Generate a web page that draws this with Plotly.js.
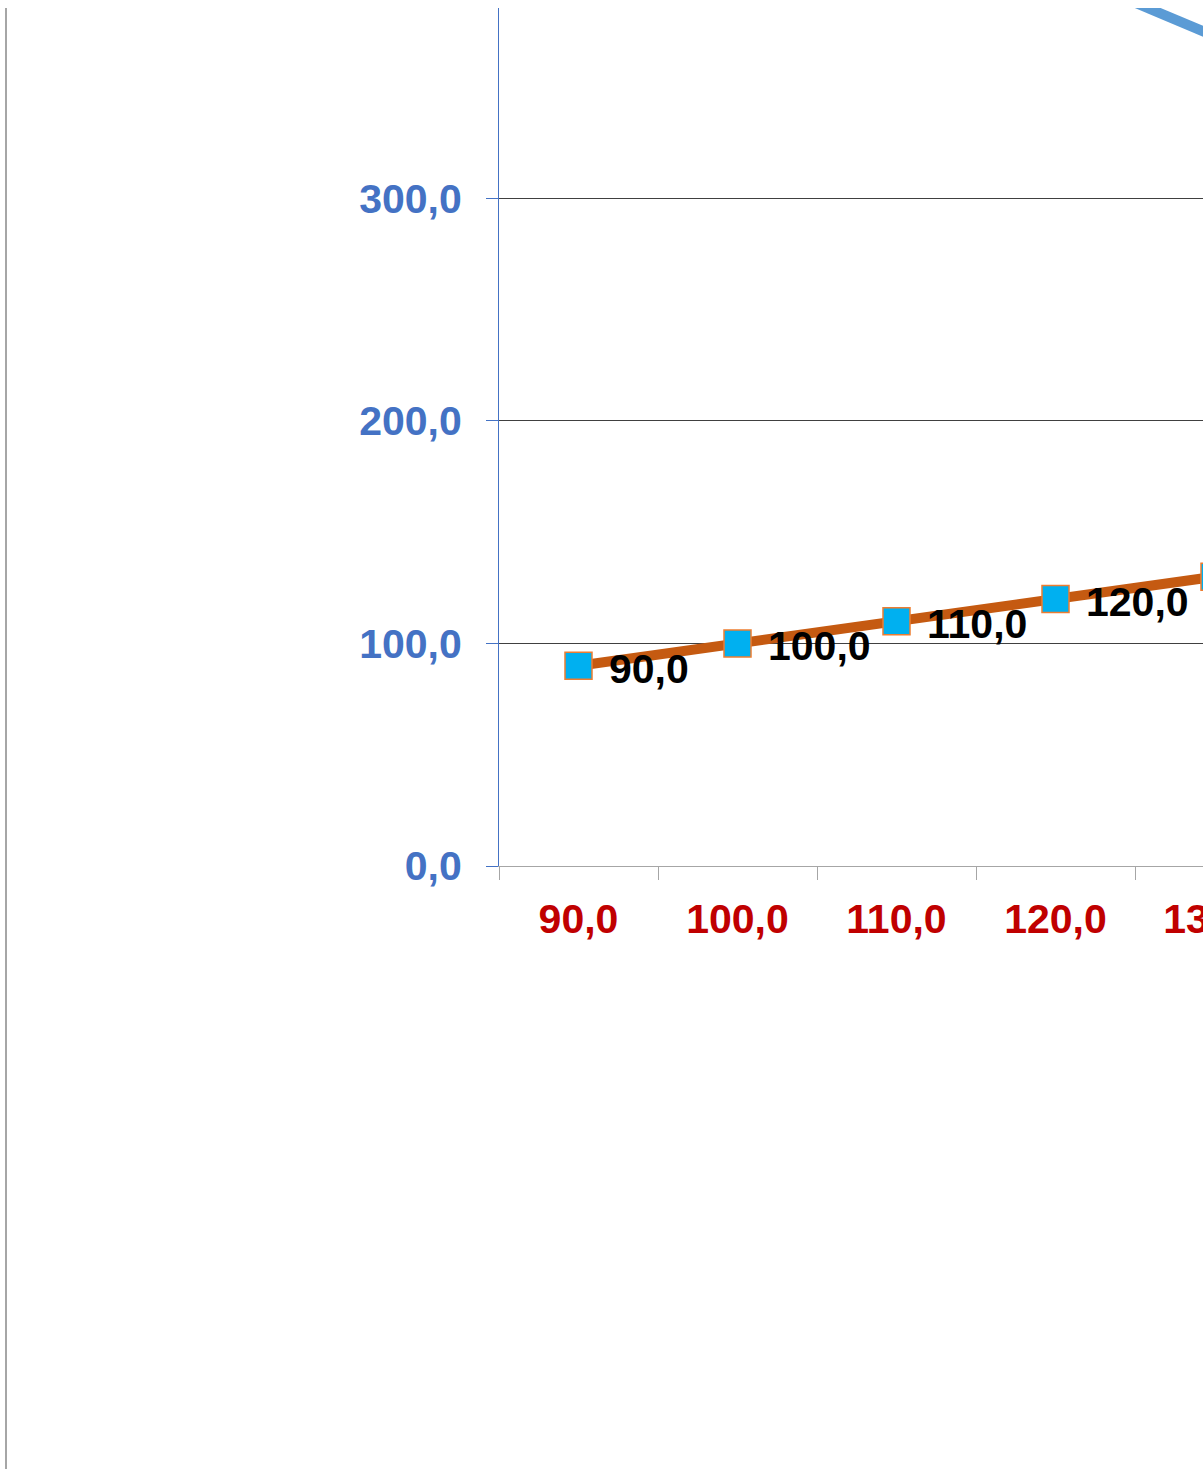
<!DOCTYPE html>
<html>
<head>
<meta charset="utf-8">
<script src="https://cdn.plot.ly/plotly-3.0.1.min.js"></script>
<style>
  html, body { margin: 0; padding: 0; overflow: hidden; background: #fff; }
  #myDiv { width: 1354px; height: 1469px; }
</style>
</head>
<body>
<div id="myDiv"></div>
<script>
// categories on the x axis (last one is cut off by the crop)
var categories = ["90,0", "100,0", "110,0", "120,0", "130,0"];
// orange series with blue square markers
var mainValues = [90, 100, 110, 120, 130];
// blue series, only its segment near the top right is visible
var blueValues = [null, null, null, 403, 373];

var yTickVals = [0, 100, 200, 300];
var yTickText = ["0,0", "100,0", "200,0", "300,0"];

function fmt(v) {
    return v.toFixed(1).replace(".", ",");
}

var boldFont = "'Liberation Sans', Arial, sans-serif";

var traceMain = {
    x: categories,
    y: mainValues,
    type: 'scatter',
    mode: 'lines+markers',
    line: { color: '#C55A11', width: 10 },
    marker: { symbol: 'square', size: 27, color: '#00B0F0', line: { color: '#ED7D31', width: 1.5 } },
    cliponaxis: false,
    hoverinfo: 'skip'
};

var traceBlue = {
    x: categories,
    y: blueValues,
    type: 'scatter',
    mode: 'lines',
    line: { color: '#5B9BD5', width: 10 },
    cliponaxis: true,
    hoverinfo: 'skip'
};

// data labels to the right of each marker
var labels = [];
for (var i = 0; i < mainValues.length; i++) {
    labels.push({
        x: categories[i],
        y: mainValues[i],
        xref: 'x', yref: 'y',
        text: fmt(mainValues[i]),
        showarrow: false,
        xanchor: 'left',
        yanchor: 'middle',
        xshift: 28,
        yshift: -3,
        font: { family: boldFont, size: 41, color: '#000000', weight: 'bold' }
    });
}

var layout = {
    width: 1354,
    height: 1469,
    margin: { l: 499, r: 60, t: 8, b: 603 },
    paper_bgcolor: '#ffffff',
    plot_bgcolor: '#ffffff',
    showlegend: false,
    xaxis: {
        type: 'category',
        range: [-0.5, categories.length - 0.5],
        tickson: 'boundaries',
        ticks: 'outside',
        ticklen: 13,
        tickcolor: '#A6A6A6',
        tickwidth: 1,
        showline: true,
        linecolor: '#A6A6A6',
        linewidth: 1,
        showgrid: false,
        zeroline: false,
        ticklabelstandoff: 17,
        tickfont: { family: boldFont, size: 41, color: '#C00000', weight: 'bold' }
    },
    yaxis: {
        range: [0, 385.6],
        tickvals: yTickVals,
        ticktext: yTickText,
        ticks: 'outside',
        ticklen: 12,
        tickcolor: '#4472C4',
        tickwidth: 1,
        showline: true,
        linecolor: '#4472C4',
        linewidth: 1,
        showgrid: true,
        gridcolor: '#404040',
        gridwidth: 1,
        zeroline: false,
        ticklabelstandoff: 16,
        tickfont: { family: boldFont, size: 41, color: '#4472C4', weight: 'bold' }
    },
    annotations: labels,
    shapes: [{
        type: 'line',
        xref: 'paper', yref: 'paper',
        x0: -493 / 795, x1: -493 / 795,
        y0: 1, y1: -0.71,
        line: { color: '#A6A6A6', width: 2 }
    }]
};

Plotly.newPlot('myDiv', [traceBlue, traceMain], layout, { staticPlot: true });
</script>
</body>
</html>
